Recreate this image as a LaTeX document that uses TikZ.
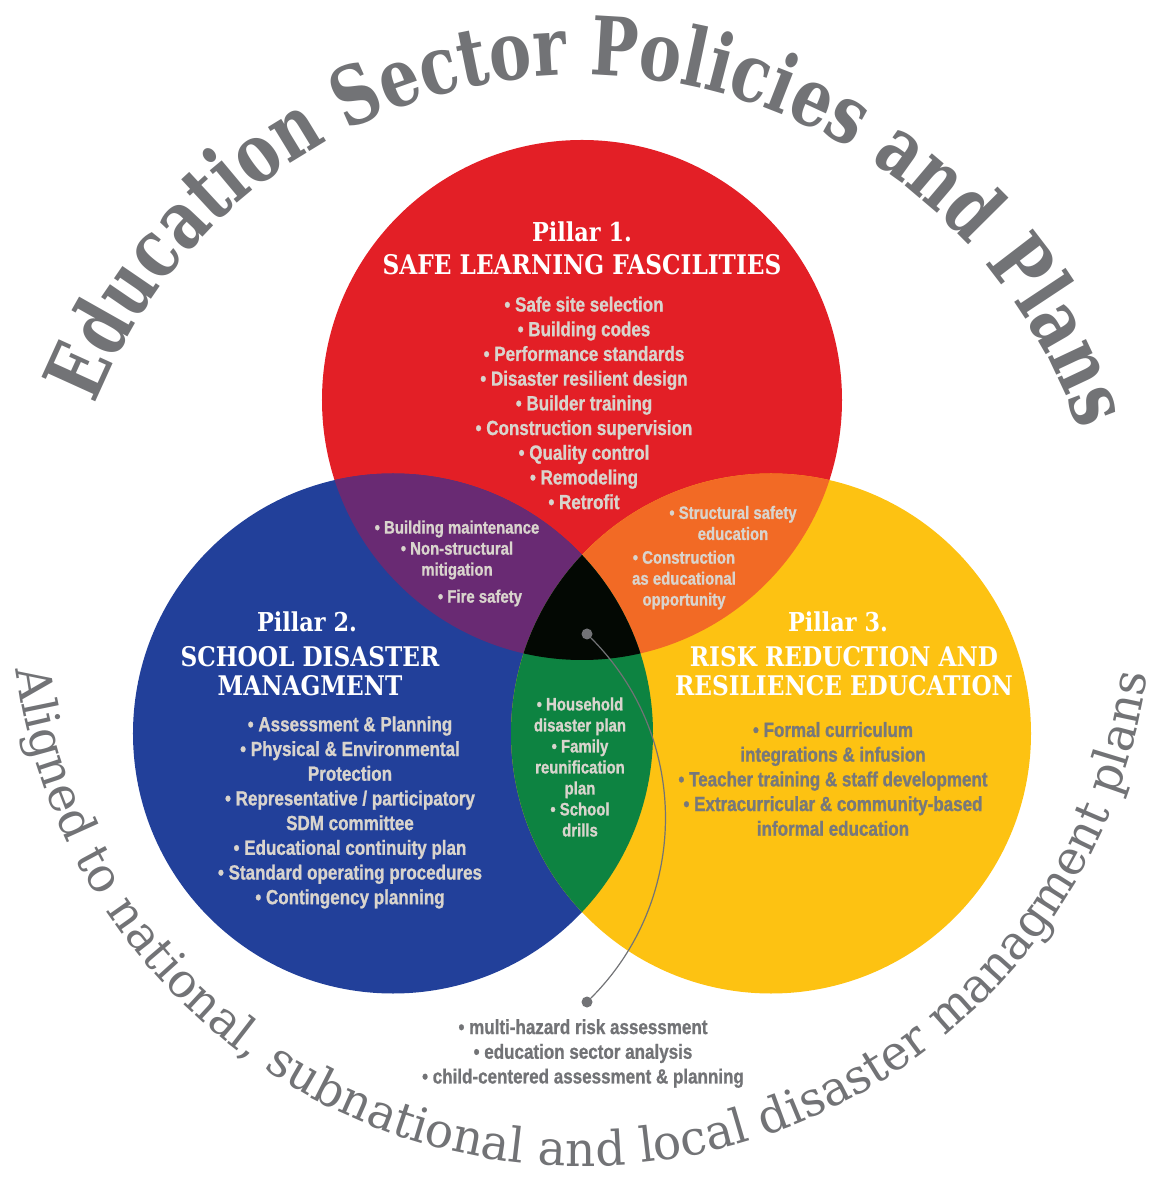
\documentclass[tikz,border=0pt]{standalone}
\usepackage{fontspec}
\usetikzlibrary{decorations.text,calc}
\newfontfamily\bulf[FakeStretch=0.83, BoldFont={Liberation Sans Bold}, BoldFeatures={FakeBold=1.0}]{Liberation Sans}
\newfontfamily\headf[FakeStretch=0.86]{DejaVu Serif}
\newfontfamily\arcf[FakeStretch=0.78]{DejaVu Serif}
\newfontfamily\arcg[FakeStretch=0.98]{DejaVu Serif}
\definecolor{cred}{HTML}{E31F26}
\definecolor{cblue}{HTML}{22409A}
\definecolor{cyel}{HTML}{FDC212}
\definecolor{cpur}{HTML}{692A73}
\definecolor{cora}{HTML}{F26A25}
\definecolor{cgrn}{HTML}{0D8341}
\definecolor{cblk}{HTML}{030803}
\definecolor{cgrey}{HTML}{727376}
\definecolor{ygrey}{HTML}{77787B}
\definecolor{lgrey}{HTML}{D9D4CD}
\begin{document}
\begin{tikzpicture}[x=1pt,y=1pt,
  bul/.style={align=center, inner sep=0, text=lgrey, font=\bulf\bfseries\fontsize{20.5}{24.7}\selectfont},
  bulsm/.style={align=center, inner sep=0, text=lgrey, font=\bulf\bfseries\fontsize{18}{21}\selectfont},
  bulg/.style={bul, text=ygrey},
  bulc/.style={bul, text=cgrey},
  pil/.style={inner sep=0, text=white, font=\headf\bfseries\fontsize{26}{30}\selectfont},
  ttl/.style={align=center, inner sep=0, text=white, font=\headf\bfseries\fontsize{27}{29}\selectfont},
  dot/.style={circle, fill=cgrey, inner sep=0, minimum size=11pt},
  conn/.style={draw=cgrey, line width=1.2pt}]
\useasboundingbox (-582,-601) rectangle (568,600);
\coordinate (cR) at (0,200);
\coordinate (cB) at (-189,-133.5);
\coordinate (cY) at (189,-133.5);
\coordinate (cA) at (0,5);
% circles
\fill[cred] (cR) circle[radius=260];
\fill[cblue] (cB) circle[radius=260];
\fill[cyel] (cY) circle[radius=260];
\begin{scope}
  \clip (cR) circle[radius=260];
  \fill[cpur] (cB) circle[radius=260];
  \fill[cora] (cY) circle[radius=260];
\end{scope}
\begin{scope}
  \clip (cB) circle[radius=260];
  \fill[cgrn] (cY) circle[radius=260];
\end{scope}
\begin{scope}
  \clip (cR) circle[radius=260];
  \clip (cB) circle[radius=260];
  \fill[cblk] (cY) circle[radius=260];
\end{scope}
% curved texts
\path[decorate, decoration={text along path, text align=center,
  text={|\arcf\bfseries\fontsize{81}{81}\selectfont\color{cgrey}|Education Sector Policies and Plans}}]
  (158:525) arc[start angle=158, end angle=19, radius=525];
\path[decorate, decoration={text along path, text align=fit to path,
  text={|\arcg\fontsize{48}{48}\selectfont\color{cgrey}|Aligned to national, subnational and local disaster managment plans}}]
  ($(cA)+(187.5:571)$) arc[start angle=187.5, end angle=352, radius=571];
% Pillar 1
\node[pil] (p1) at (0,368) {Pillar 1.};
\node[ttl] (t1) at (0,335) {SAFE LEARNING FASCILITIES};
\node[bul] (b1) at (2,197) {• Safe site selection\\• Building codes\\• Performance standards\\• Disaster resilient design\\• Builder training\\• Construction supervision\\• Quality control\\• Remodeling\\• Retrofit};
% Pillar 2
\node[pil] (p2) at (-275,-22) {Pillar 2.};
\node[ttl] (t2) at (-272,-71.5) {SCHOOL DISASTER\\MANAGMENT};
\node[bul] (b2) at (-232,-212.5) {• Assessment \& Planning\\• Physical \& Environmental\\Protection\\• Representative / participatory\\SDM committee\\• Educational continuity plan\\• Standard operating procedures\\• Contingency planning};
% Pillar 3
\node[pil] (p3) at (256,-22) {Pillar 3.};
\node[ttl] (t3) at (262,-71.5) {RISK REDUCTION AND\\RESILIENCE EDUCATION};
\node[bulg] (b3) at (251,-179) {• Formal curriculum\\integrations \& infusion\\• Teacher training \& staff development\\• Extracurricular \& community-based\\informal education};
% overlaps
\node[bulsm] (pu1) at (-125,50) {• Building maintenance\\• Non-structural\\mitigation};
\node[bulsm] (pu2) at (-102,2) {• Fire safety};
\node[bulsm] (or1) at (151,77) {• Structural safety\\education};
\node[bulsm] (or2) at (102,20) {• Construction\\as educational\\opportunity};
\node[bulsm] (gr1) at (-2,-167) {• Household\\disaster plan\\• Family\\reunification\\plan\\• School\\drills};
% connector
\node[dot] (d1) at (5,-34) {};
\node[dot] (d2) at (5,-402) {};
\draw[conn] (d1) to[bend left=45] (d2);
\node[bulc] (core) at (1,-453.5) {• multi-hazard risk assessment\\• education sector analysis\\• child-centered assessment \& planning};
\end{tikzpicture}
\end{document}
